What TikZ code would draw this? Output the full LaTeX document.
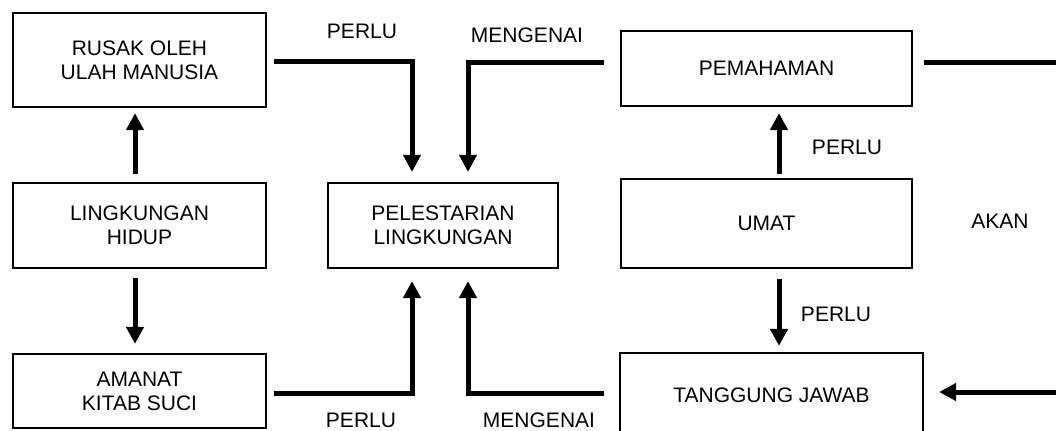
\documentclass[tikz,border=0pt]{standalone}
\usepackage{fontspec}
\setmainfont{Liberation Sans}
\usetikzlibrary{arrows.meta,calc}

\begin{document}
\begin{tikzpicture}[x=0.5pt,y=-0.5pt]

    % let's define some key values
    \def\gap{7}
    \def\offl{31}
    \def\offr{25}

    % Styles
    \tikzstyle{box}=[draw, line width=1.1pt, align=center, inner sep=0pt, font=\fontsize{10.5}{12}\selectfont]
    \tikzstyle{conn}=[line width=2.5pt]
    \tikzstyle{arr}=[conn, -{Triangle[length=8.5pt,width=8.5pt]}]
    \tikzstyle{lbl}=[inner sep=0pt, font=\fontsize{10.5}{12}\selectfont]

    \useasboundingbox (0,0) rectangle (1056,430);

    % left column
    \node[box, minimum width=126.5pt, minimum height=47pt] (rusak) at (139.5,60) {RUSAK OLEH\\ULAH MANUSIA};
    \node[box, minimum width=126.5pt, minimum height=42.5pt] (lingkungan) at (139.5,225.5) {LINGKUNGAN\\HIDUP};
    \node[box, minimum width=126.5pt, minimum height=37pt] (amanat) at (139.5,391) {AMANAT\\KITAB SUCI};

    % middle box
    \node[box, minimum width=115pt, minimum height=42.5pt] (pelestarian) at (443,225.5) {PELESTARIAN\\LINGKUNGAN};

    % right column
    \node[box, minimum width=145.5pt, minimum height=37.5pt] (pemahaman) at (766.5,68.5) {PEMAHAMAN};
    \node[box, minimum width=145.5pt, minimum height=44.5pt] (umat) at (766.5,223.5) {UMAT};
    \node[box, minimum width=151.5pt, minimum height=42pt] (tanggung) at (771.5,395) {TANGGUNG JAWAB};

    % labels
    \node[lbl] (perlutop) at (362,31) {PERLU};
    \node[lbl] (mengenaitop) at (527,35) {MENGENAI};
    \node[lbl] (perluup) at (847,147) {PERLU};
    \node[lbl] (akan) at (1000,221) {AKAN};
    \node[lbl] (perludown) at (836,314) {PERLU};
    \node[lbl] (perlubot) at (361,420) {PERLU};
    \node[lbl] (mengenaibot) at (539,420) {MENGENAI};

    % left column arrows
    \draw[arr] ($(lingkungan.north)+(-4.5,-8)$) -- ($(rusak.south)+(-4.5,5)$);
    \draw[arr] ($(lingkungan.south)+(-4.5,9)$) -- ($(amanat.north)+(-4.5,-9)$);

    % into the middle box
    \draw[arr] ($(rusak.east)+(\gap,1)$) -| ($(pelestarian.north)+(-\offl,-10)$);
    \draw[arr] ($(pemahaman.west)+(-16,-6.5)$) -| ($(pelestarian.north)+(\offr,-10)$);
    \draw[arr] ($(amanat.east)+(\gap,2)$) -| ($(pelestarian.south)+(-\offl,12)$);
    \draw[arr] ($(tanggung.west)+(-15,-2)$) -| ($(pelestarian.south)+(\offr,12)$);

    % right column arrows
    \draw[arr] ($(umat.north)+(12.5,-4)$) -- ($(pemahaman.south)+(12.5,6)$);
    \draw[arr] ($(umat.south)+(12.5,10)$) -- ($(umat.south |- tanggung.north)+(12.5,-6)$);

    % loop on the right edge
    \coordinate (toprt) at (1056,62);
    \coordinate (botrt) at (1056,392);
    \draw[conn] ($(pemahaman.east)+(11,-6.5)$) -- (toprt);
    \draw[arr] (botrt) -- ($(tanggung.east)+(15,-3)$);

\end{tikzpicture}
\end{document}
